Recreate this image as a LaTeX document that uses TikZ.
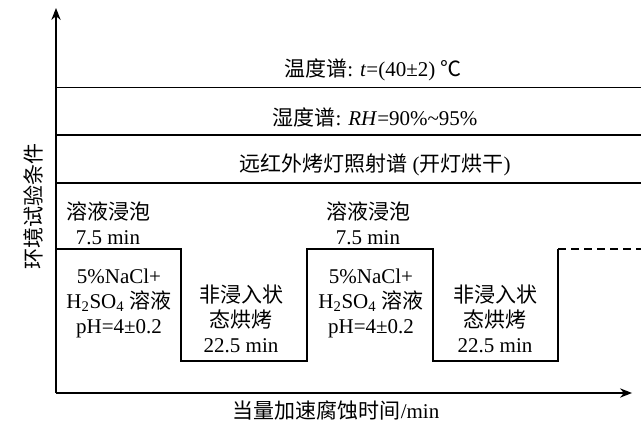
\documentclass[tikz,border=0pt]{standalone}
\usepackage{fontspec}
\setmainfont{Liberation Serif}
\newfontfamily\cjk{Noto Sans CJK SC}
\newcommand{\zh}[1]{{\cjk #1}}
\usetikzlibrary{arrows.meta}

\begin{document}
\begin{tikzpicture}[x=0.75pt,y=-0.75pt,
				textnode/.style={align=center, inner sep=0pt, font=\fontsize{15.75}{18.75}\selectfont},
				axisline/.style={line width=0.9pt, -{Stealth[length=9pt,width=7pt]}},
				bandline/.style={line width=0.9pt},
				waveline/.style={line width=0.9pt},
				]
				\useasboundingbox (0,0) rectangle (641,423);
				%Coordinates
				\coordinate (origin) at (56,393);
				\coordinate (ytop) at (56,8);
				\coordinate (xend) at (632,393);
				\coordinate (band1l) at (56,87.5);
				\coordinate (band1r) at (641,87.5);
				\coordinate (band2l) at (56,135);
				\coordinate (band2r) at (641,135);
				\coordinate (band3l) at (56,183);
				\coordinate (band3r) at (641,183);
				\coordinate (w0) at (56,249);
				\coordinate (w1) at (181,249);
				\coordinate (w2) at (181,361);
				\coordinate (w3) at (307,361);
				\coordinate (w4) at (307,249);
				\coordinate (w5) at (433,249);
				\coordinate (w6) at (433,361);
				\coordinate (w7) at (558,361);
				\coordinate (w8) at (558,249);
				\coordinate (w9) at (641,249);
				
				%Nodes
				\node[textnode](temp) at (373,70){\zh{温度谱}: \textit{t}=(40±2) \zh{℃}};
				\node[textnode](humid) at (375,117){\zh{湿度谱}: \textit{RH}=90\%\textasciitilde95\%};
				\node[textnode](lamp) at (375,165){\zh{远红外烤灯照射谱} (\zh{开灯烘干})};
				\node[textnode](soak1) at (108,223){\zh{溶液浸泡}\\7.5 min};
				\node[textnode](soak2) at (368,223){\zh{溶液浸泡}\\7.5 min};
				\node[textnode](sol1) at (119,303){5\%NaCl+\\H\textsubscript{2}SO\textsubscript{4} \zh{溶液}\\pH=4±0.2};
				\node[textnode](sol2) at (371,303){5\%NaCl+\\H\textsubscript{2}SO\textsubscript{4} \zh{溶液}\\pH=4±0.2};
				\node[textnode](dry1) at (241,319){\zh{非浸入状}\\\zh{态烘烤}\\22.5 min};
				\node[textnode](dry2) at (495,319){\zh{非浸入状}\\\zh{态烘烤}\\22.5 min};
				\node[textnode, rotate=90](ylabel) at (33,207){\zh{环境试验条件}};
				\node[textnode](xlabel) at (336,411){\zh{当量加速腐蚀时间}/min};
				
				%Lines
				\draw[axisline] (origin) -- (ytop);
				\draw[axisline] (origin) -- (xend);
				\draw[bandline] (band1l) -- (band1r);
				\draw[bandline] (band2l) -- (band2r);
				\draw[bandline] (band3l) -- (band3r);
				\draw[waveline] (w0) -- (w1) -- (w2) -- (w3) -- (w4) -- (w5) -- (w6) -- (w7) -- (w8);
				\draw[waveline, dash pattern=on 6pt off 3.75pt] (w8) -- (w9);
				
			\end{tikzpicture}
\end{document}
